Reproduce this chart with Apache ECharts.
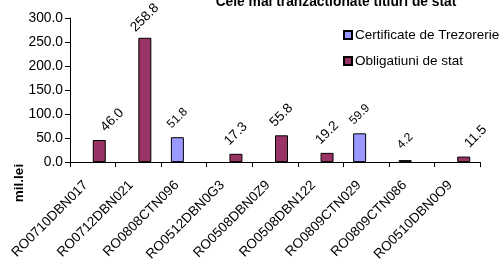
<!DOCTYPE html>
<html><head><meta charset="utf-8">
<script src="https://cdn.jsdelivr.net/npm/echarts@6/dist/echarts.min.js"></script>
<style>html,body{margin:0;padding:0;background:#fff}#c{width:502px;height:264px}</style>
</head><body><div id="c"></div>
<script>
const categories = ['RO0710DBN017','RO0712DBN021','RO0808CTN096','RO0512DBN0G3','RO0508DBN0Z9','RO0508DBN122','RO0809CTN029','RO0809CTN086','RO0510DBN0O9'];
const certificate = [null, null, 51.8, null, null, null, 59.9, 4.2, null];
const obligatiuni = [46.0, 258.8, null, 17.3, 55.8, 19.2, null, null, 11.5];
const yTicks = [0, 50, 100, 150, 200, 250, 300];

const font = 'Liberation Sans, Arial, sans-serif';
// labels that were moved sideways in the original
const shiftedLabels = {0: 13, 8: 12};

const chart = echarts.init(document.getElementById('c'));
chart.setOption({
  animation: false,
  title: {
    text: 'Cele mai tranzactionate titluri de stat',
    left: 336, textAlign: 'center', top: -5, padding: 0,
    textStyle: {fontFamily: font, fontSize: 13.8, fontWeight: 'bold', color: '#000'}
  },
  legend: {
    orient: 'vertical', left: 343, top: 28, itemGap: 12, padding: 0,
    itemWidth: 8, itemHeight: 8, icon: 'rect',
    textStyle: {fontFamily: font, fontSize: 13.5, color: '#000', padding: [0,0,0,-2]},
    data: ['Certificate de Trezorerie', 'Obligatiuni de stat']
  },
  grid: {left: 70, right: 22, top: 18, bottom: 101},
  graphic: [{
    type: 'text', x: 19, y: 183, rotation: Math.PI / 2,
    style: {text: 'mil.lei', font: 'bold 13.5px Liberation Sans, Arial, sans-serif', fill: '#000',
      align: 'center', verticalAlign: 'middle'}
  }],
  xAxis: {
    type: 'category', data: categories,
    axisLine: {lineStyle: {color: '#000'}},
    axisTick: {show: true, length: 5, lineStyle: {color: '#000'}},
    axisLabel: {rotate: 45, interval: 0, fontFamily: font, fontSize: 13.5, color: '#000', margin: 14,
      padding: [0, 10, 0, 0]}
  },
  yAxis: {
    type: 'value', min: yTicks[0], max: yTicks[yTicks.length-1], interval: 50,
    axisLine: {show: true, lineStyle: {color: '#000'}},
    axisTick: {show: true, length: 5, lineStyle: {color: '#000'}},
    splitLine: {show: false},
    axisLabel: {formatter: v => v.toFixed(1), fontFamily: font, fontSize: 13.8, color: '#000', margin: 7}
  },
  series: [
    {
      name: 'Certificate de Trezorerie', type: 'bar', data: certificate,
      barWidth: 13, barGap: '0%',
      itemStyle: {color: '#9999FF', borderColor: '#000', borderWidth: 1},
      label: {show: true, position: 'top', rotate: 45, align: 'center', verticalAlign: 'middle', distance: 19,
        fontFamily: font, fontSize: 12, color: '#000', formatter: p => p.value == null ? '' : p.value.toFixed(1)}
    },
    {
      name: 'Obligatiuni de stat', type: 'bar', data: obligatiuni,
      barWidth: 13, barGap: '0%',
      itemStyle: {color: '#993366', borderColor: '#000', borderWidth: 1},
      label: {show: true, position: 'top', rotate: 45, align: 'center', verticalAlign: 'middle', distance: 20,
        fontFamily: font, fontSize: 13.5, color: '#000', formatter: p => p.value == null ? '' : p.value.toFixed(1)},
      labelLayout: p => ({
        x: p.rect.x + p.rect.width / 2 + (shiftedLabels[p.dataIndex] || 0),
        y: p.rect.y - 20,
        align: 'center', verticalAlign: 'middle', rotate: 45
      })
    }
  ]
});
</script></body></html>
